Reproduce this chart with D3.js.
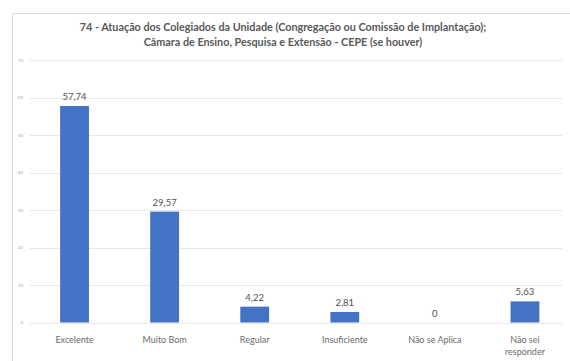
<!DOCTYPE html>
<html><head><meta charset="utf-8">
<script src="https://cdn.jsdelivr.net/npm/d3@7"></script>
<style>body{margin:0;background:#fff}svg{display:block}</style>
</head><body>
<script>
const categories = ["Excelente", "Muito Bom", "Regular", "Insuficiente", "Não se Aplica", "Não sei responder"];
const values = [57.74, 29.57, 4.22, 2.81, 0, 5.63];
const valueLabels = ["57,74", "29,57", "4,22", "2,81", "0", "5,63"];
const yTicks = [0, 10, 20, 30, 40, 50, 60, 70];
const titleLines = ["74 - Atuação dos Colegiados da Unidade (Congregação ou Comissão de Implantação);", "Câmara de Ensino, Pesquisa e Extensão - CEPE (se houver)"];

const W = 570, H = 361;
const svg = d3.select("body").append("svg").attr("width", W).attr("height", H);
svg.append("rect").attr("x", 12.5).attr("y", 13.5).attr("width", 600).attr("height", 400)
  .attr("fill", "#fff").attr("stroke", "#d9d9d9");

const x = d3.scaleBand().domain(categories).range([29.5, 570]).paddingInner(0.68).paddingOuter(0.34);
const y = d3.scaleLinear().domain([0, 70]).range([322.5, 60]);

const grid = svg.append("g");
grid.selectAll("line").data(yTicks).join("line")
  .attr("x1", 30).attr("x2", 562)
  .attr("y1", d => Math.round(y(d)) + 0.5).attr("y2", d => Math.round(y(d)) + 0.5)
  .attr("stroke", "#e8e8e8").attr("stroke-width", 1);

const yAxis = d3.axisLeft(y).tickValues(yTicks).tickSize(0).tickPadding(0);
const ya = svg.append("g").attr("transform", "translate(23,0)").call(yAxis);
ya.select(".domain").remove();
ya.selectAll("text").attr("font-family", "Lato, sans-serif").attr("font-size", 4.5).attr("fill", "#aaa");

svg.append("g").selectAll("rect").data(values).join("rect")
  .attr("x", (d, i) => x(categories[i]))
  .attr("width", x.bandwidth())
  .attr("y", d => y(d))
  .attr("height", d => y(0) - y(d))
  .attr("fill", "#4472c4");

svg.append("g").selectAll("text").data(values).join("text")
  .attr("x", (d, i) => x(categories[i]) + x.bandwidth() / 2)
  .attr("y", d => y(d) - 6)
  .attr("text-anchor", "middle")
  .attr("font-family", "Lato, sans-serif").attr("font-size", 9.5).attr("fill", "#505050")
  .text((d, i) => valueLabels[i]);

const xl = svg.append("g").selectAll("text").data(categories).join("text")
  .attr("x", d => x(d) + x.bandwidth() / 2)
  .attr("y", 343)
  .attr("text-anchor", "middle")
  .attr("font-family", "Lato, sans-serif").attr("font-size", 9).attr("fill", "#6a6a6a");
xl.each(function(d) {
  const t = d3.select(this);
  const parts = d === "Não sei responder" ? ["Não sei", "responder"] : [d];
  parts.forEach((p, i) => t.append("tspan").attr("x", t.attr("x")).attr("dy", i === 0 ? 0 : 12).text(p));
});

svg.append("g").selectAll("text").data(titleLines).join("text")
  .attr("x", 283).attr("y", (d, i) => 31 + i * 15)
  .attr("text-anchor", "middle")
  .attr("font-family", "Lato, sans-serif").attr("font-weight", 700).attr("font-size", 10.8).attr("fill", "#595959")
  .text(d => d);
</script>
</body></html>
